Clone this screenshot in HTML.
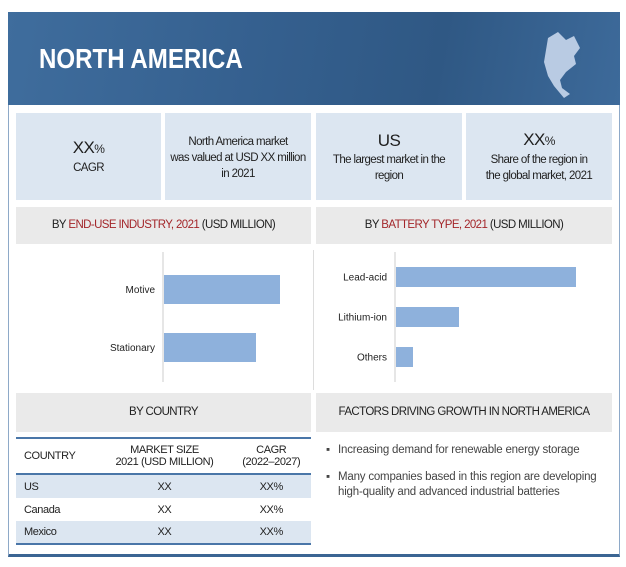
<!DOCTYPE html>
<html><head><meta charset="utf-8"><style>
body{margin:0;width:626px;height:567px;background:#fff;font-family:"Liberation Sans",sans-serif;position:relative;overflow:hidden}
.a{position:absolute}
.card{position:absolute;top:113px;height:87px;background:#dce6f1;color:#1f1f1f;font-size:11.5px;text-align:center;display:flex;flex-direction:column;justify-content:center;line-height:16px;letter-spacing:-0.6px}
.big{font-size:17px;line-height:22px}
.gh{position:absolute;background:#eaeaea;font-size:11.5px;color:#222;text-align:center;letter-spacing:-0.6px}
.red{color:#a3262a}
td{font-size:11px;color:#222;padding:0;letter-spacing:-0.4px}
</style></head><body>
<div class="a" style="left:8px;top:12px;width:610px;height:541px;border:1px solid #8ea9c8;border-bottom:3px solid #3b6593"></div>
<div class="a" style="left:8px;top:12px;width:612px;height:93px;background:linear-gradient(100deg,#3f6d9d 0%,#35608f 40%,#2f5884 70%,#3d6a9a 100%)">
<div class="a" style="left:31px;top:31px;font-size:28px;font-weight:bold;color:#fff;transform:scaleX(0.86);transform-origin:left;white-space:nowrap">NORTH AMERICA</div>
<svg class="a" style="left:528px;top:14px" width="50" height="80"><path d="M12 12 L22 6 L30 14 L38 10 L44 22 L38 30 L40 38 L30 46 L24 54 L26 62 L34 68 L28 72 L18 60 L12 50 L8 36 L10 24 Z" fill="#b9cbe3"/></svg>
</div>
<div class="card" style="left:16px;width:145px"><div class="big">XX<span style="font-size:12px">%</span></div><div>CAGR</div></div>
<div class="card" style="left:165px;width:146px;justify-content:flex-start;padding-top:21px;height:66px">North America market<br>was valued at USD XX million<br>in 2021</div>
<div class="card" style="left:316px;width:146px"><div class="big">US</div><div>The largest market in the<br>region</div></div>
<div class="card" style="left:466px;width:146px"><div class="big">XX<span style="font-size:12px">%</span></div><div>Share of the region in<br>the global market, 2021</div></div>
<div class="gh" style="left:16px;top:207px;width:295px;height:37px;line-height:37px">BY <span class="red">END-USE INDUSTRY, 2021</span> (USD MILLION)</div>
<div class="gh" style="left:316px;top:207px;width:296px;height:37px;line-height:37px">BY <span class="red">BATTERY TYPE, 2021</span> (USD MILLION)</div>
<svg class="a" id="c1" style="left:0;top:244px" width="313" height="145"></svg>
<svg class="a" id="c2" style="left:313px;top:244px" width="313" height="145"></svg>
<div class="a" style="left:313px;top:250px;width:1px;height:140px;background:#ddd"></div>
<div class="gh" style="left:16px;top:393px;width:295px;height:39px;line-height:39px">BY COUNTRY</div>
<div class="gh" style="left:316px;top:393px;width:296px;height:39px;line-height:39px">FACTORS DRIVING GROWTH IN NORTH AMERICA</div>
<table class="a" style="left:16px;top:437px;width:295px;border-collapse:collapse;border-top:2px solid #4a76a8;border-bottom:2px solid #4a76a8">
<tr style="height:36px"><td style="padding-left:8px">COUNTRY</td><td style="text-align:center">MARKET SIZE<br>2021 (USD MILLION)</td><td style="text-align:center">CAGR<br>(2022–2027)</td></tr>
<tr style="height:24px;background:#dce6f1;border-top:2px solid #4a76a8"><td style="padding-left:8px">US</td><td style="text-align:center">XX</td><td style="text-align:center">XX%</td></tr>
<tr style="height:23px"><td style="padding-left:8px">Canada</td><td style="text-align:center">XX</td><td style="text-align:center">XX%</td></tr>
<tr style="height:23px;background:#dce6f1"><td style="padding-left:8px">Mexico</td><td style="text-align:center">XX</td><td style="text-align:center">XX%</td></tr>
</table>
<div class="a" style="left:326px;top:443px;width:285px;font-size:11.5px;color:#444;line-height:15px;letter-spacing:-0.2px">
<div style="display:flex;margin-bottom:12px"><span style="width:12px;flex:none">▪</span><span>Increasing demand for renewable energy storage</span></div>
<div style="display:flex"><span style="width:12px;flex:none">▪</span><span>Many companies based in this region are developing high-quality and advanced industrial batteries</span></div>
</div>
<script>
const endUseCats=["Motive","Stationary"];
const endUseVals=[116,92];
const batteryCats=["Lead-acid","Lithium-ion","Others"];
const batteryVals=[180,63,17];
const NS="http://www.w3.org/2000/svg";
function draw(id,cats,vals,x0,y0,step,bh,nm){
  const s=document.getElementById(id);
  const ax=document.createElementNS(NS,"line");
  
  
  ax.setAttribute("x1",x0);ax.setAttribute("x2",x0);ax.setAttribute("y1",8);ax.setAttribute("y2",138);ax.setAttribute("stroke","#ccc");
  s.appendChild(ax);
  cats.forEach((c,i)=>{
    const y=y0+i*step;
    const r=document.createElementNS(NS,"rect");
    
    
    r.setAttribute("x",x0+1);r.setAttribute("y",y);r.setAttribute("width",vals[i]);r.setAttribute("height",bh);r.setAttribute("fill","#8eb1dc");
    s.appendChild(r);
    const t=document.createElementNS(NS,"text");
    
    
    t.setAttribute("x",x0-8);t.setAttribute("y",y+bh/2+3.5);t.setAttribute("text-anchor","end");t.setAttribute("font-size","10");t.setAttribute("fill","#222");
    t.textContent=c;s.appendChild(t);
  });
}
draw("c1",endUseCats,endUseVals,163,31,58,29,"end-use");
draw("c2",batteryCats,batteryVals,82,23,40,20,"battery");
</script>
</body></html>
